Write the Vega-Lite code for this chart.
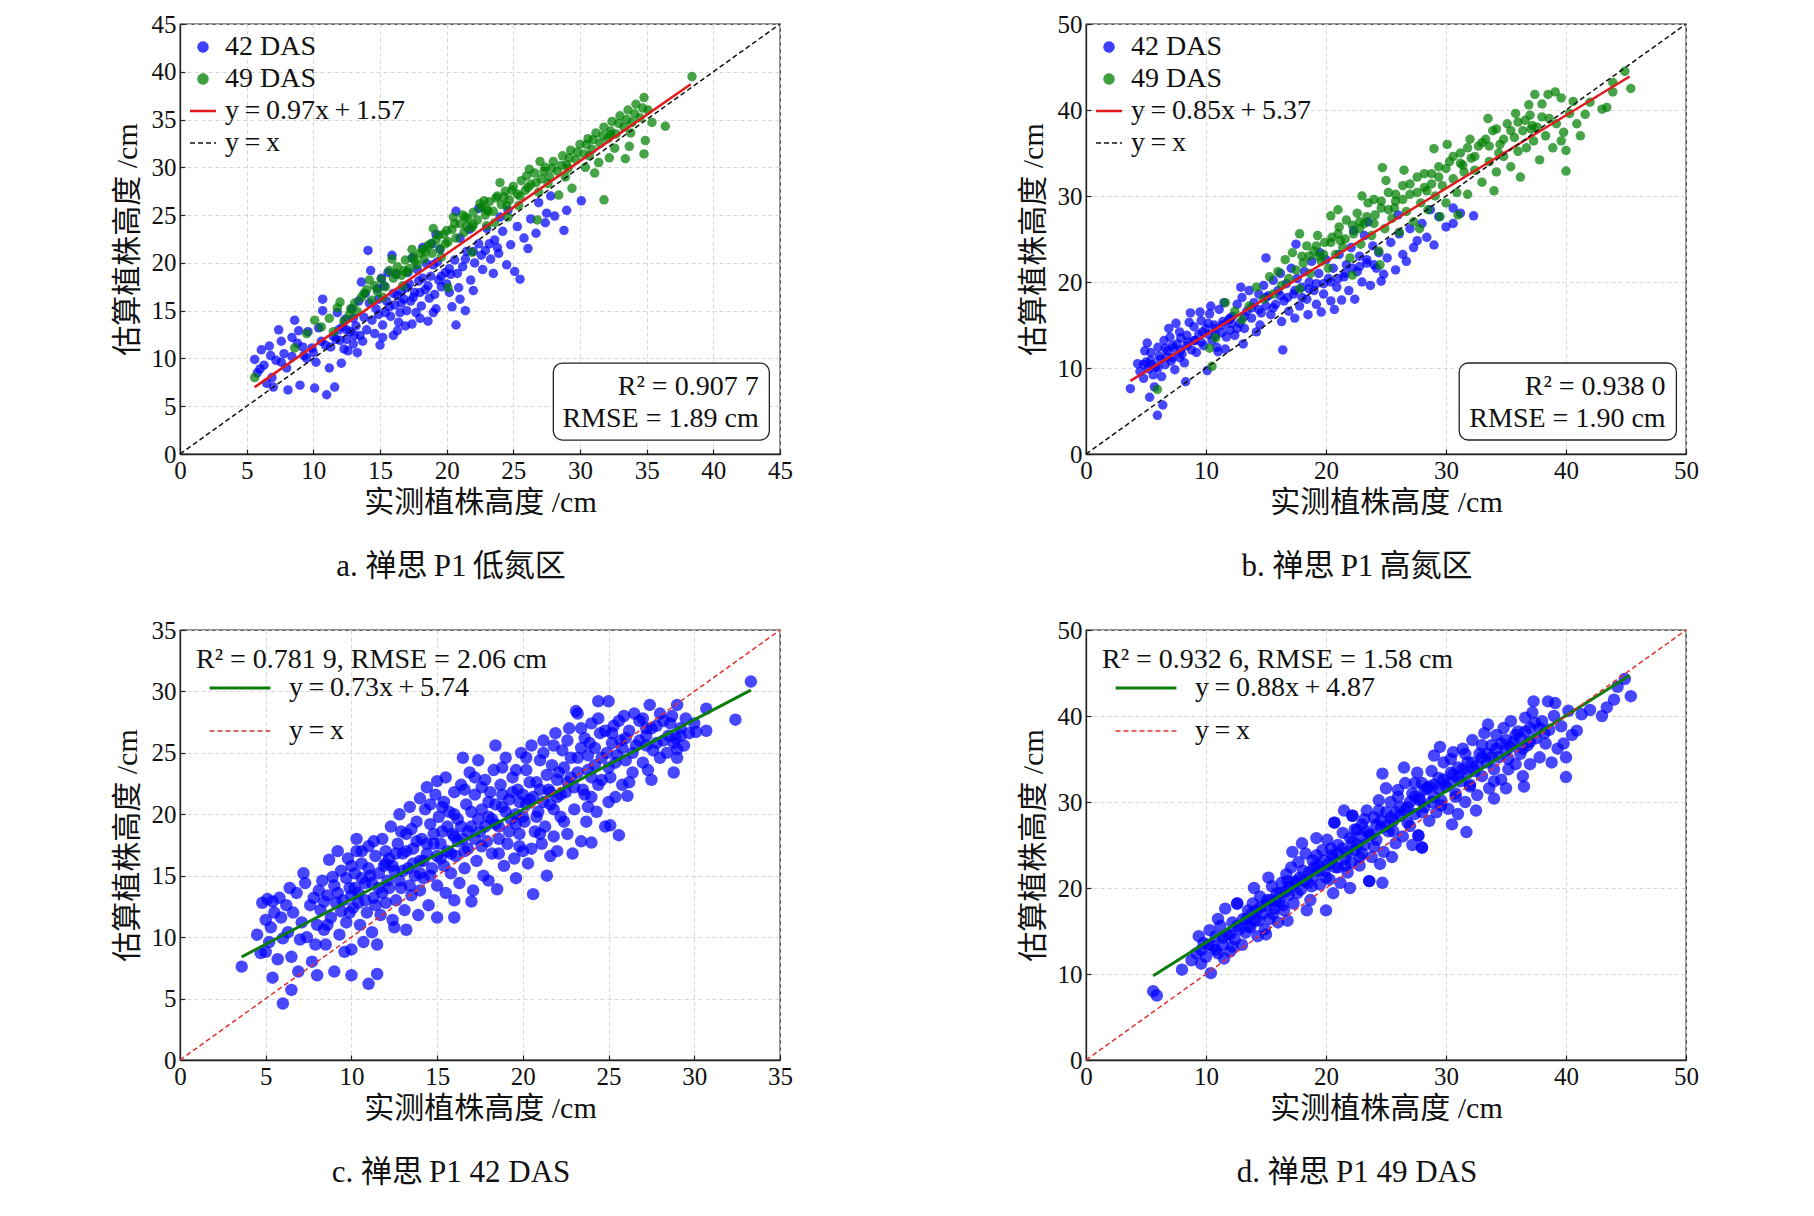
{
  "$schema": "https://vega.github.io/schema/vega-lite/v6.json",
  "description": "禅思P1 plant height: estimated vs measured, four panels",
  "padding": {"left": 111, "top": 11, "right": 5, "bottom": 5},
  "background": "white",
  "config": {
    "font": "Liberation Serif, Noto Sans CJK SC",
    "view": {"stroke": "#222222", "strokeWidth": 1.3},
    "axis": {
      "labelFontSize": 25, "labelColor": "#111111", "labelPadding": 9, "labelFlush": false, "labelOverlap": false,
      "titleFontSize": 30, "titleFontWeight": "normal", "titleColor": "#111111",
      "domainColor": "#222222", "domainWidth": 1.3,
      "tickColor": "#222222", "tickSize": -5, "tickWidth": 1.2,
      "gridColor": "#d2d2d2", "gridDash": [4, 3], "gridWidth": 0.9
    },
    "axisX": {"titlePadding": 4},
    "axisY": {"titlePadding": 9},
    "legend": {
      "labelFontSize": 28, "labelColor": "#111111", "labelLimit": 400,
      "titleFontSize": 28, "titleFontWeight": "normal", "titleColor": "#111111", "titleLimit": 600,
      "padding": 0
    },
    "title": {"fontSize": 31, "fontWeight": "normal", "color": "#111111"}
  },
  "resolve": {"scale": {"color": "independent"}, "legend": {"color": "independent"}},
  "datasets": {
    "a42": [
      {"x":5.6,"y":9.9},{"x":6.1,"y":10.9},{"x":6.7,"y":11.3},{"x":5.8,"y":8.5},{"x":6.3,"y":9.3},{"x":6.9,"y":8.0},{"x":7.4,"y":13.0},{"x":7.2,"y":9.8},{"x":7.8,"y":10.5},{"x":6.5,"y":7.4},{"x":7.0,"y":7.0},{"x":8.1,"y":6.7},{"x":7.6,"y":11.8},{"x":8.0,"y":9.0},{"x":6.0,"y":8.9},{"x":6.8,"y":10.3},
      {"x":8.6,"y":14.0},{"x":8.4,"y":12.2},{"x":9.0,"y":7.2},{"x":9.3,"y":10.3},{"x":8.8,"y":11.6},{"x":9.6,"y":12.8},{"x":10.1,"y":6.9},{"x":10.7,"y":16.2},{"x":10.7,"y":15.0},{"x":10.4,"y":13.2},{"x":9.9,"y":11.1},{"x":10.2,"y":9.6},{"x":9.5,"y":10.0},{"x":8.9,"y":12.9},{"x":10.6,"y":11.8},{"x":11.0,"y":6.2},{"x":11.6,"y":7.0},{"x":11.2,"y":9.0},
      {"x":11.5,"y":12.3},{"x":11.9,"y":13.0},{"x":12.1,"y":9.5},{"x":12.3,"y":11.0},{"x":12.5,"y":12.0},{"x":12.8,"y":12.8},{"x":13.0,"y":11.5},{"x":13.2,"y":13.4},{"x":13.5,"y":12.4},{"x":13.8,"y":14.3},{"x":11.8,"y":14.8},{"x":12.4,"y":14.1},{"x":12.9,"y":15.2},{"x":13.4,"y":16.0},{"x":11.3,"y":11.2},{"x":12.0,"y":11.9},{"x":13.7,"y":11.8},{"x":13.3,"y":10.6},{"x":12.6,"y":10.8},{"x":14.0,"y":13.0},{"x":14.1,"y":21.3},{"x":13.6,"y":18.0},{"x":13.9,"y":16.8},
      {"x":14.4,"y":14.0},{"x":14.7,"y":15.2},{"x":15.0,"y":11.4},{"x":15.2,"y":13.5},{"x":15.5,"y":16.0},{"x":15.9,"y":20.8},{"x":15.3,"y":17.6},{"x":15.8,"y":14.4},{"x":16.1,"y":15.6},{"x":16.4,"y":13.8},{"x":16.6,"y":17.0},{"x":16.9,"y":13.4},{"x":16.2,"y":18.8},{"x":16.8,"y":16.2},{"x":14.8,"y":17.3},{"x":15.6,"y":19.0},{"x":14.6,"y":12.6},{"x":17.0,"y":15.0},{"x":16.0,"y":12.4},{"x":15.1,"y":18.4},{"x":14.3,"y":19.2},
      {"x":17.2,"y":17.8},{"x":17.5,"y":16.4},{"x":17.8,"y":19.3},{"x":18.1,"y":15.5},{"x":18.4,"y":17.2},{"x":18.6,"y":13.9},{"x":18.8,"y":18.6},{"x":19.1,"y":16.7},{"x":19.3,"y":20.1},{"x":19.6,"y":17.5},{"x":19.9,"y":19.0},{"x":17.4,"y":20.5},{"x":18.2,"y":21.6},{"x":17.7,"y":14.8},{"x":19.2,"y":15.2},{"x":18.9,"y":22.0},{"x":19.5,"y":21.4},{"x":17.1,"y":19.0},{"x":18.5,"y":19.9},{"x":20.0,"y":17.8},{"x":19.2,"y":23.0},
      {"x":20.4,"y":15.4},{"x":20.7,"y":13.5},{"x":21.4,"y":15.0},{"x":20.3,"y":18.8},{"x":20.6,"y":20.3},{"x":20.9,"y":17.4},{"x":21.2,"y":19.6},{"x":21.5,"y":21.2},{"x":21.8,"y":18.2},{"x":22.1,"y":20.0},{"x":22.4,"y":22.0},{"x":22.7,"y":19.3},{"x":20.7,"y":25.4},{"x":22.4,"y":25.7},{"x":21.0,"y":22.6},{"x":21.7,"y":23.5},{"x":22.9,"y":21.3},{"x":22.0,"y":17.1},{"x":23.0,"y":23.6},
      {"x":23.3,"y":20.4},{"x":23.6,"y":22.4},{"x":23.9,"y":21.0},{"x":24.2,"y":23.3},{"x":24.5,"y":19.8},{"x":24.8,"y":21.9},{"x":25.1,"y":19.1},{"x":25.5,"y":18.3},{"x":25.3,"y":23.8},{"x":24.0,"y":24.8},{"x":23.5,"y":18.9},{"x":25.8,"y":22.6},{"x":26.1,"y":21.5},{"x":24.6,"y":25.5},
      {"x":26.7,"y":23.1},{"x":27.4,"y":24.2},{"x":27.5,"y":25.2},{"x":28.1,"y":24.9},{"x":28.8,"y":23.4},{"x":29.0,"y":25.5},{"x":27.8,"y":27.0},{"x":30.1,"y":26.5},{"x":26.3,"y":24.6},{"x":26.9,"y":26.3},
      {"x":14.9,"y":14.6},{"x":15.7,"y":15.4},{"x":16.5,"y":14.8},{"x":17.3,"y":16.0},{"x":18.0,"y":16.9},{"x":18.7,"y":16.3},{"x":19.4,"y":18.2},{"x":20.2,"y":16.9},{"x":13.1,"y":12.4},{"x":12.2,"y":13.3},{"x":16.3,"y":16.6},{"x":17.9,"y":18.1},
      {"x":14.2,"y":15.8},{"x":14.9,"y":16.2},{"x":15.4,"y":14.8},{"x":16.0,"y":16.8},{"x":16.6,"y":15.8},{"x":17.0,"y":17.4},{"x":17.6,"y":16.9},{"x":18.2,"y":18.4},{"x":18.6,"y":17.6},{"x":19.0,"y":19.8},{"x":19.6,"y":18.6},{"x":20.2,"y":19.4},{"x":20.8,"y":18.9},{"x":21.4,"y":20.4},{"x":22.0,"y":21.2},{"x":22.6,"y":20.8},{"x":23.2,"y":22.0},{"x":23.8,"y":21.6},{"x":13.0,"y":14.2},{"x":12.5,"y":13.0},{"x":11.7,"y":12.0},{"x":10.9,"y":11.4},{"x":10.0,"y":10.6},{"x":9.2,"y":11.2},{"x":8.4,"y":10.2},{"x":7.6,"y":9.6},{"x":18.0,"y":14.2},{"x":19.0,"y":14.8},{"x":16.3,"y":12.9},{"x":17.4,"y":13.6},{"x":21.0,"y":16.2},{"x":15.2,"y":12.2}
    ],
    "a49": [
      {"x":5.6,"y":8.0},{"x":8.6,"y":11.1},{"x":10.1,"y":14.0},{"x":9.5,"y":12.6},{"x":10.6,"y":13.3},{"x":11.2,"y":14.2},{"x":11.8,"y":15.3},{"x":12.3,"y":13.9},{"x":12.0,"y":15.9},{"x":11.5,"y":12.8},{"x":12.7,"y":14.6},{"x":13.1,"y":15.8},{"x":13.6,"y":16.4},{"x":13.3,"y":14.9},{"x":14.0,"y":17.2},{"x":14.4,"y":16.1},{"x":14.2,"y":18.2},
      {"x":14.8,"y":17.0},{"x":15.1,"y":18.3},{"x":15.4,"y":17.5},{"x":15.7,"y":19.2},{"x":16.0,"y":18.4},{"x":16.3,"y":19.6},{"x":16.6,"y":18.7},{"x":16.9,"y":20.3},{"x":17.2,"y":19.4},{"x":17.5,"y":20.6},{"x":17.8,"y":19.8},{"x":15.9,"y":20.4},{"x":16.7,"y":17.6},{"x":17.4,"y":21.4},{"x":15.2,"y":16.4},{"x":18.0,"y":21.0},
      {"x":18.3,"y":20.4},{"x":18.6,"y":21.8},{"x":18.9,"y":21.0},{"x":19.2,"y":22.4},{"x":19.5,"y":21.5},{"x":19.8,"y":23.0},{"x":20.1,"y":22.2},{"x":20.4,"y":23.5},{"x":20.7,"y":22.6},{"x":21.0,"y":24.1},{"x":21.3,"y":23.2},{"x":21.6,"y":24.6},{"x":21.9,"y":23.7},{"x":20.1,"y":17.4},{"x":21.9,"y":21.1},{"x":19.0,"y":23.6},{"x":20.5,"y":24.8},{"x":22.0,"y":25.3},
      {"x":22.3,"y":24.5},{"x":22.6,"y":25.8},{"x":22.9,"y":25.0},{"x":23.2,"y":26.4},{"x":23.5,"y":25.4},{"x":23.8,"y":27.0},{"x":24.1,"y":26.1},{"x":24.4,"y":27.5},{"x":24.7,"y":26.6},{"x":25.0,"y":28.0},{"x":25.3,"y":27.2},{"x":25.6,"y":28.6},{"x":25.9,"y":27.6},{"x":23.0,"y":23.9},{"x":24.6,"y":24.8},{"x":26.0,"y":29.1},
      {"x":26.3,"y":28.2},{"x":26.6,"y":29.4},{"x":26.8,"y":24.5},{"x":27.1,"y":28.8},{"x":27.4,"y":30.0},{"x":27.7,"y":29.0},{"x":28.0,"y":30.6},{"x":28.4,"y":27.1},{"x":28.3,"y":29.6},{"x":28.7,"y":31.2},{"x":29.0,"y":30.3},{"x":29.4,"y":27.8},{"x":29.3,"y":31.8},{"x":29.7,"y":30.8},{"x":30.0,"y":32.4},{"x":27.0,"y":30.6},
      {"x":30.3,"y":31.4},{"x":30.6,"y":33.0},{"x":31.1,"y":29.4},{"x":30.9,"y":31.9},{"x":31.2,"y":33.6},{"x":31.5,"y":32.5},{"x":31.8,"y":26.6},{"x":31.8,"y":34.2},{"x":32.1,"y":33.0},{"x":32.4,"y":34.8},{"x":32.7,"y":33.5},{"x":33.0,"y":35.4},{"x":33.4,"y":30.9},{"x":33.3,"y":34.2},{"x":33.6,"y":36.0},{"x":33.9,"y":34.7},{"x":34.2,"y":36.6},{"x":34.5,"y":35.2},{"x":34.8,"y":37.3},{"x":34.8,"y":31.4},{"x":35.4,"y":34.7},{"x":36.4,"y":34.3},{"x":34.9,"y":32.8},{"x":33.7,"y":32.2},{"x":35.1,"y":36.0},{"x":32.2,"y":31.0},{"x":31.4,"y":30.5},{"x":38.4,"y":39.5},
      {"x":21.2,"y":25.0},{"x":22.8,"y":26.5},{"x":24.0,"y":28.4},{"x":19.6,"y":20.6},{"x":23.6,"y":24.2},{"x":25.4,"y":26.0},{"x":26.9,"y":27.4},{"x":28.9,"y":29.0},{"x":30.4,"y":30.0},{"x":32.6,"y":32.0},
      {"x":17.0,"y":19.0},{"x":18.4,"y":21.2},{"x":19.9,"y":22.0},{"x":21.5,"y":23.8},{"x":23.0,"y":25.6},{"x":24.5,"y":26.0},{"x":26.1,"y":27.9},{"x":27.6,"y":28.3},{"x":29.1,"y":29.9},{"x":30.7,"y":31.2},{"x":32.3,"y":33.8},{"x":33.8,"y":33.6},
      {"x":16.2,"y":18.9},{"x":16.8,"y":19.2},{"x":17.6,"y":20.2},{"x":18.2,"y":21.4},{"x":18.8,"y":22.0},{"x":19.4,"y":22.9},{"x":20.0,"y":23.4},{"x":20.6,"y":24.1},{"x":21.4,"y":24.8},{"x":22.0,"y":24.0},{"x":22.5,"y":26.2},{"x":23.1,"y":25.4},{"x":23.7,"y":26.8},{"x":24.3,"y":26.9},{"x":24.9,"y":27.6},{"x":25.5,"y":27.0},{"x":26.2,"y":29.8},{"x":26.7,"y":28.4},{"x":27.3,"y":29.6},{"x":27.9,"y":29.9},{"x":28.6,"y":30.2},{"x":29.2,"y":31.0},{"x":29.8,"y":31.6},{"x":30.5,"y":32.4},{"x":31.0,"y":32.9},{"x":31.7,"y":33.3},{"x":32.3,"y":33.4},{"x":32.9,"y":34.6},{"x":33.5,"y":35.0},{"x":34.1,"y":35.6},{"x":34.7,"y":36.2},{"x":13.8,"y":16.8},{"x":14.6,"y":17.6},{"x":12.8,"y":15.2}
    ],
    "b42": [
      {"x":3.7,"y":7.6},{"x":4.8,"y":8.8},{"x":5.0,"y":10.7},{"x":5.1,"y":12.9},{"x":5.3,"y":6.6},{"x":5.7,"y":7.8},{"x":5.95,"y":4.5},{"x":6.4,"y":5.7},{"x":4.5,"y":9.6},{"x":5.4,"y":11.8},{"x":5.8,"y":10.1},{"x":6.0,"y":12.4},{"x":4.9,"y":12.0},{"x":5.6,"y":9.2},{"x":6.2,"y":11.0},{"x":6.5,"y":13.2},{"x":4.3,"y":10.5},{"x":5.2,"y":9.9},
      {"x":6.6,"y":10.4},{"x":6.8,"y":12.0},{"x":7.0,"y":13.6},{"x":7.2,"y":11.2},{"x":7.4,"y":9.8},{"x":7.6,"y":12.8},{"x":7.8,"y":14.2},{"x":8.0,"y":11.6},{"x":8.3,"y":8.4},{"x":8.5,"y":13.0},{"x":8.7,"y":16.4},{"x":8.8,"y":12.1},{"x":9.0,"y":14.8},{"x":6.9,"y":14.6},{"x":7.5,"y":15.2},{"x":8.2,"y":10.6},{"x":6.3,"y":9.0},{"x":7.9,"y":13.5},{"x":8.6,"y":15.3},{"x":7.1,"y":10.8},
      {"x":9.2,"y":11.8},{"x":9.4,"y":13.9},{"x":9.6,"y":15.5},{"x":9.8,"y":12.6},{"x":10.1,"y":9.7},{"x":10.0,"y":14.6},{"x":10.3,"y":16.3},{"x":10.5,"y":13.2},{"x":10.7,"y":15.0},{"x":10.9,"y":12.4},{"x":11.1,"y":16.8},{"x":11.3,"y":14.1},{"x":11.5,"y":17.6},{"x":11.7,"y":13.6},{"x":11.9,"y":15.6},{"x":10.4,"y":17.2},{"x":9.5,"y":16.5},{"x":11.0,"y":11.9},{"x":12.0,"y":14.4},{"x":11.6,"y":12.2},
      {"x":12.2,"y":16.0},{"x":12.4,"y":13.8},{"x":12.6,"y":17.4},{"x":12.8,"y":15.2},{"x":13.0,"y":18.2},{"x":13.2,"y":14.6},{"x":13.4,"y":16.6},{"x":13.6,"y":19.0},{"x":13.8,"y":15.8},{"x":14.0,"y":17.6},{"x":14.2,"y":14.2},{"x":14.4,"y":18.6},{"x":14.6,"y":16.4},{"x":14.8,"y":19.6},{"x":15.0,"y":22.8},{"x":13.1,"y":12.8},{"x":14.5,"y":15.0},{"x":12.9,"y":19.4},{"x":15.0,"y":17.2},
      {"x":15.2,"y":18.4},{"x":15.4,"y":16.2},{"x":15.6,"y":20.2},{"x":15.8,"y":17.4},{"x":16.0,"y":19.0},{"x":16.2,"y":21.0},{"x":16.4,"y":12.1},{"x":16.5,"y":17.8},{"x":16.7,"y":19.8},{"x":16.9,"y":16.6},{"x":17.1,"y":21.6},{"x":17.3,"y":18.6},{"x":17.5,"y":24.4},{"x":17.6,"y":20.4},{"x":17.8,"y":17.2},{"x":18.0,"y":19.4},{"x":16.3,"y":15.4},{"x":17.4,"y":15.8},
      {"x":18.2,"y":21.2},{"x":18.4,"y":18.0},{"x":18.6,"y":20.0},{"x":18.8,"y":22.4},{"x":19.0,"y":19.0},{"x":19.2,"y":17.4},{"x":19.4,"y":21.0},{"x":19.6,"y":16.5},{"x":19.8,"y":19.8},{"x":20.0,"y":22.6},{"x":20.2,"y":20.4},{"x":20.4,"y":17.8},{"x":20.6,"y":21.6},{"x":20.7,"y":16.8},{"x":20.9,"y":19.4},{"x":21.1,"y":23.2},{"x":21.3,"y":17.9},{"x":19.5,"y":23.4},{"x":18.5,"y":16.2},
      {"x":21.5,"y":20.6},{"x":21.7,"y":22.0},{"x":21.9,"y":19.0},{"x":22.1,"y":24.0},{"x":22.4,"y":18.0},{"x":22.6,"y":21.2},{"x":22.8,"y":23.0},{"x":23.0,"y":20.0},{"x":23.2,"y":25.4},{"x":23.4,"y":22.2},{"x":23.7,"y":19.6},{"x":23.9,"y":24.2},{"x":24.2,"y":21.6},{"x":24.4,"y":23.4},{"x":24.6,"y":20.1},{"x":24.8,"y":20.9},{"x":22.3,"y":26.0},{"x":23.5,"y":27.0},
      {"x":25.1,"y":22.8},{"x":25.4,"y":24.6},{"x":25.8,"y":21.4},{"x":26.1,"y":25.6},{"x":26.4,"y":23.2},{"x":26.7,"y":22.4},{"x":27.0,"y":26.2},{"x":27.3,"y":24.0},{"x":27.6,"y":24.8},{"x":28.0,"y":26.8},{"x":28.4,"y":25.2},{"x":29.0,"y":24.3},{"x":29.4,"y":27.6},{"x":30.0,"y":26.4},{"x":30.6,"y":28.6},{"x":30.6,"y":26.8},{"x":31.2,"y":28.0},{"x":32.3,"y":27.7},{"x":28.7,"y":28.4},{"x":26.0,"y":27.8},
      {"x":5.5,"y":10.4},{"x":6.1,"y":11.4},{"x":6.7,"y":11.3},{"x":7.3,"y":12.3},{"x":7.9,"y":12.1},{"x":8.4,"y":13.8},{"x":9.1,"y":13.2},{"x":9.7,"y":14.2},{"x":10.2,"y":13.9},{"x":10.8,"y":14.6},{"x":11.4,"y":15.4},{"x":12.1,"y":15.2},
      {"x":4.8,"y":10.4},{"x":5.4,"y":10.9},{"x":6.0,"y":10.0},{"x":6.6,"y":12.3},{"x":7.2,"y":12.6},{"x":7.8,"y":11.2},{"x":8.4,"y":12.6},{"x":9.0,"y":13.2},{"x":9.6,"y":13.0},{"x":10.2,"y":15.2},{"x":10.8,"y":13.8},{"x":11.4,"y":15.0},{"x":12.0,"y":15.8},{"x":12.6,"y":14.6},{"x":13.2,"y":16.0},{"x":13.8,"y":17.0},{"x":14.4,"y":16.8},{"x":15.0,"y":18.2},{"x":15.6,"y":17.0},{"x":16.2,"y":18.4},{"x":16.8,"y":18.2},{"x":17.4,"y":19.0},{"x":18.0,"y":18.2},{"x":18.6,"y":19.2},{"x":19.2,"y":19.8},{"x":19.8,"y":18.6},{"x":20.4,"y":20.0},{"x":21.0,"y":20.4},{"x":21.6,"y":21.0},{"x":22.2,"y":21.6},{"x":22.8,"y":21.8},{"x":23.4,"y":22.6},{"x":24.0,"y":22.0}
    ],
    "b49": [
      {"x":5.95,"y":7.5},{"x":10.5,"y":10.2},{"x":10.3,"y":12.3},{"x":10.8,"y":13.5},{"x":11.6,"y":17.6},{"x":12.4,"y":16.6},{"x":13.0,"y":15.6},{"x":13.6,"y":17.2},{"x":14.2,"y":19.4},{"x":14.8,"y":18.0},{"x":15.3,"y":20.6},{"x":15.6,"y":18.6},
      {"x":16.0,"y":21.2},{"x":16.3,"y":19.6},{"x":16.6,"y":22.6},{"x":16.9,"y":20.4},{"x":17.2,"y":23.4},{"x":17.5,"y":21.4},{"x":17.8,"y":25.6},{"x":17.8,"y":19.2},{"x":18.1,"y":22.2},{"x":18.4,"y":24.2},{"x":18.7,"y":21.0},{"x":19.0,"y":23.6},{"x":19.3,"y":25.4},{"x":19.6,"y":22.4},{"x":19.9,"y":24.6},{"x":20.2,"y":21.6},{"x":20.4,"y":27.7},{"x":18.0,"y":23.0},
      {"x":20.5,"y":25.2},{"x":20.8,"y":23.2},{"x":21.1,"y":26.4},{"x":21.4,"y":24.0},{"x":21.7,"y":27.2},{"x":22.0,"y":22.8},{"x":22.3,"y":25.6},{"x":22.6,"y":28.0},{"x":22.9,"y":24.4},{"x":23.2,"y":26.8},{"x":23.5,"y":29.2},{"x":23.8,"y":25.4},{"x":24.1,"y":27.8},{"x":24.4,"y":23.6},{"x":24.7,"y":33.3},{"x":21.0,"y":28.4},{"x":22.2,"y":20.8},{"x":23.0,"y":30.0},{"x":24.0,"y":29.6},
      {"x":24.6,"y":28.6},{"x":24.9,"y":26.2},{"x":25.2,"y":30.4},{"x":25.5,"y":27.4},{"x":25.8,"y":29.4},{"x":26.1,"y":25.8},{"x":26.4,"y":31.2},{"x":26.7,"y":28.2},{"x":27.0,"y":30.2},{"x":27.3,"y":27.0},{"x":27.6,"y":32.2},{"x":27.9,"y":29.2},{"x":28.2,"y":31.0},{"x":25.0,"y":31.8},{"x":26.5,"y":33.0},{"x":27.8,"y":26.2},{"x":24.5,"y":22.0},
      {"x":28.5,"y":28.4},{"x":28.8,"y":32.6},{"x":29.0,"y":35.5},{"x":29.1,"y":30.0},{"x":29.4,"y":33.4},{"x":29.7,"y":31.2},{"x":30.0,"y":29.2},{"x":30.3,"y":34.0},{"x":30.6,"y":32.0},{"x":30.9,"y":30.4},{"x":31.2,"y":35.0},{"x":31.5,"y":32.8},{"x":31.8,"y":30.2},{"x":32.1,"y":34.4},{"x":29.5,"y":27.6},{"x":31.0,"y":27.8},{"x":32.0,"y":36.6},{"x":30.1,"y":36.0},
      {"x":32.4,"y":33.0},{"x":32.7,"y":35.8},{"x":33.0,"y":31.6},{"x":33.3,"y":36.6},{"x":33.6,"y":34.0},{"x":33.9,"y":37.6},{"x":34.2,"y":32.8},{"x":34.5,"y":36.0},{"x":34.8,"y":34.6},{"x":35.1,"y":38.4},{"x":35.4,"y":33.4},{"x":35.7,"y":36.8},{"x":36.0,"y":35.2},{"x":33.5,"y":39.0},{"x":34.0,"y":30.6},{"x":35.8,"y":39.6},{"x":36.2,"y":32.2},
      {"x":36.4,"y":37.6},{"x":36.7,"y":35.6},{"x":37.0,"y":39.4},{"x":37.3,"y":36.4},{"x":37.4,"y":41.8},{"x":37.6,"y":38.0},{"x":38.0,"y":40.7},{"x":38.3,"y":37.0},{"x":38.5,"y":41.8},{"x":38.6,"y":39.0},{"x":38.9,"y":35.6},{"x":39.1,"y":42.1},{"x":39.2,"y":38.4},{"x":39.6,"y":41.4},{"x":39.6,"y":36.4},{"x":40.0,"y":32.9},{"x":40.0,"y":35.3},{"x":40.3,"y":39.6},{"x":40.9,"y":38.4},{"x":41.6,"y":39.5},{"x":42.0,"y":40.9},{"x":43.0,"y":40.1},{"x":43.4,"y":40.3},{"x":43.9,"y":42.1},{"x":43.9,"y":43.2},{"x":44.9,"y":44.5},{"x":45.4,"y":42.5},{"x":39.8,"y":37.4},{"x":37.8,"y":34.2},{"x":40.6,"y":41.0},{"x":41.2,"y":37.0},{"x":36.9,"y":40.6},
      {"x":19.4,"y":23.0},{"x":21.2,"y":24.8},{"x":22.8,"y":26.2},{"x":25.7,"y":28.6},{"x":28.4,"y":30.6},{"x":31.4,"y":33.6},{"x":34.4,"y":35.0},{"x":37.1,"y":37.8},
      {"x":18.6,"y":23.0},{"x":19.2,"y":24.2},{"x":19.8,"y":23.2},{"x":20.4,"y":24.6},{"x":21.0,"y":25.6},{"x":21.6,"y":25.0},{"x":22.2,"y":26.6},{"x":22.8,"y":27.0},{"x":23.4,"y":27.6},{"x":24.0,"y":26.8},{"x":24.6,"y":29.4},{"x":25.2,"y":28.4},{"x":25.8,"y":30.2},{"x":26.4,"y":29.6},{"x":27.0,"y":31.4},{"x":27.6,"y":30.4},{"x":28.2,"y":32.6},{"x":28.8,"y":31.4},{"x":29.4,"y":32.2},{"x":30.0,"y":33.2},{"x":30.6,"y":34.6},{"x":31.2,"y":33.8},{"x":31.8,"y":35.6},{"x":32.4,"y":34.6},{"x":33.0,"y":36.2},{"x":33.6,"y":35.8},{"x":34.2,"y":37.8},{"x":34.8,"y":36.6},{"x":35.4,"y":37.6},{"x":36.0,"y":38.6},{"x":36.6,"y":38.8},{"x":37.2,"y":38.2},{"x":38.0,"y":39.2}
    ],
    "c": [
      {"x":3.6,"y":7.6},{"x":4.7,"y":8.7},{"x":5.0,"y":8.8},{"x":4.8,"y":12.8},{"x":5.4,"y":12.9},{"x":4.5,"y":10.2},{"x":5.0,"y":11.4},{"x":5.2,"y":9.6},{"x":5.4,"y":6.7},{"x":5.5,"y":12.0},{"x":5.3,"y":10.8},{"x":5.7,"y":8.2},{"x":5.9,"y":11.6},{"x":6.0,"y":4.6},{"x":6.0,"y":9.9},{"x":5.8,"y":13.2},{"x":6.2,"y":12.6},{"x":5.1,"y":13.1},
      {"x":6.3,"y":10.4},{"x":6.5,"y":5.7},{"x":6.5,"y":8.4},{"x":6.6,"y":12.0},{"x":6.8,"y":13.6},{"x":7.0,"y":9.8},{"x":7.1,"y":11.2},{"x":7.3,"y":14.4},{"x":7.4,"y":10.0},{"x":7.6,"y":12.6},{"x":7.7,"y":8.0},{"x":7.8,"y":13.2},{"x":8.0,"y":6.9},{"x":8.0,"y":11.0},{"x":6.9,"y":7.2},{"x":7.2,"y":15.2},{"x":7.9,"y":9.4},{"x":6.4,"y":14.0},
      {"x":8.2,"y":12.2},{"x":8.3,"y":14.6},{"x":8.4,"y":10.6},{"x":8.6,"y":13.4},{"x":8.7,"y":16.3},{"x":8.8,"y":11.6},{"x":9.0,"y":7.2},{"x":9.0,"y":14.2},{"x":9.1,"y":12.8},{"x":9.3,"y":10.2},{"x":9.4,"y":15.4},{"x":9.5,"y":13.0},{"x":9.7,"y":11.2},{"x":9.8,"y":16.4},{"x":9.9,"y":14.0},{"x":10.0,"y":6.9},{"x":10.0,"y":9.0},{"x":8.5,"y":9.4},{"x":9.6,"y":8.8},{"x":9.2,"y":17.0},
      {"x":10.1,"y":12.4},{"x":10.2,"y":15.2},{"x":10.3,"y":17.0},{"x":10.4,"y":13.6},{"x":10.5,"y":11.0},{"x":10.6,"y":16.0},{"x":10.8,"y":14.4},{"x":10.9,"y":12.0},{"x":11.0,"y":6.2},{"x":11.0,"y":17.4},{"x":11.1,"y":15.0},{"x":11.2,"y":10.4},{"x":11.3,"y":13.2},{"x":11.4,"y":16.6},{"x":11.5,"y":7.0},{"x":11.6,"y":14.0},{"x":11.7,"y":11.8},{"x":11.8,"y":18.0},{"x":11.9,"y":15.8},{"x":12.0,"y":12.8},{"x":10.7,"y":9.6},{"x":11.5,"y":9.4},{"x":12.0,"y":17.0},{"x":10.3,"y":18.0},
      {"x":12.1,"y":14.6},{"x":12.2,"y":16.4},{"x":12.3,"y":19.0},{"x":12.4,"y":11.4},{"x":12.5,"y":15.4},{"x":12.6,"y":13.0},{"x":12.7,"y":17.6},{"x":12.8,"y":20.0},{"x":12.9,"y":14.0},{"x":13.0,"y":16.8},{"x":13.1,"y":12.2},{"x":13.2,"y":18.4},{"x":13.3,"y":15.6},{"x":13.4,"y":20.6},{"x":13.5,"y":13.4},{"x":13.6,"y":17.2},{"x":13.7,"y":15.0},{"x":13.8,"y":19.4},{"x":13.9,"y":11.8},{"x":14.0,"y":21.3},{"x":14.0,"y":16.2},{"x":12.5,"y":10.8},{"x":13.2,"y":10.6},{"x":14.0,"y":13.8},
      {"x":14.1,"y":18.0},{"x":14.2,"y":14.8},{"x":14.3,"y":20.4},{"x":14.4,"y":16.8},{"x":14.5,"y":12.6},{"x":14.6,"y":19.2},{"x":14.7,"y":15.6},{"x":14.8,"y":17.6},{"x":14.9,"y":21.6},{"x":15.0,"y":22.7},{"x":15.0,"y":11.6},{"x":15.0,"y":14.2},{"x":15.1,"y":19.8},{"x":15.2,"y":16.4},{"x":15.3,"y":18.6},{"x":15.4,"y":21.0},{"x":15.5,"y":13.6},{"x":15.6,"y":17.0},{"x":15.7,"y":20.2},{"x":15.8,"y":15.2},{"x":15.9,"y":18.4},{"x":16.0,"y":11.6},{"x":16.0,"y":21.8},{"x":14.4,"y":22.2},{"x":15.5,"y":23.0},{"x":16.0,"y":13.0},
      {"x":16.1,"y":16.6},{"x":16.2,"y":19.6},{"x":16.3,"y":14.4},{"x":16.4,"y":22.4},{"x":16.5,"y":18.0},{"x":16.6,"y":15.6},{"x":16.7,"y":20.8},{"x":16.8,"y":17.2},{"x":16.9,"y":23.4},{"x":17.0,"y":19.0},{"x":17.1,"y":13.8},{"x":17.2,"y":21.6},{"x":17.3,"y":16.2},{"x":17.4,"y":24.4},{"x":17.5,"y":18.6},{"x":17.6,"y":20.4},{"x":17.7,"y":15.0},{"x":17.8,"y":22.8},{"x":17.9,"y":17.8},{"x":18.0,"y":19.8},{"x":16.5,"y":24.6},{"x":17.0,"y":12.9},{"x":18.0,"y":14.6},
      {"x":18.1,"y":21.8},{"x":18.2,"y":16.8},{"x":18.3,"y":23.6},{"x":18.4,"y":19.2},{"x":18.5,"y":13.9},{"x":18.6,"y":18.0},{"x":18.7,"y":22.4},{"x":18.8,"y":20.6},{"x":18.9,"y":15.8},{"x":19.0,"y":24.6},{"x":19.1,"y":17.6},{"x":19.2,"y":21.2},{"x":19.3,"y":19.6},{"x":19.4,"y":23.0},{"x":19.5,"y":16.4},{"x":19.6,"y":20.0},{"x":19.7,"y":22.0},{"x":19.8,"y":18.4},{"x":19.9,"y":25.0},{"x":20.0,"y":17.0},{"x":18.4,"y":25.6},{"x":19.6,"y":14.8},{"x":20.0,"y":21.6},
      {"x":20.1,"y":19.4},{"x":20.2,"y":23.6},{"x":20.3,"y":16.0},{"x":20.4,"y":21.2},{"x":20.5,"y":25.6},{"x":20.6,"y":13.5},{"x":20.7,"y":18.6},{"x":20.8,"y":22.6},{"x":20.9,"y":20.2},{"x":21.0,"y":24.4},{"x":21.1,"y":17.6},{"x":21.2,"y":26.0},{"x":21.3,"y":19.0},{"x":21.4,"y":15.0},{"x":21.5,"y":22.0},{"x":21.6,"y":20.8},{"x":21.7,"y":24.0},{"x":21.8,"y":18.2},{"x":21.9,"y":26.6},{"x":22.0,"y":17.0},{"x":22.0,"y":21.4},{"x":20.5,"y":17.2},{"x":21.6,"y":16.6},
      {"x":22.1,"y":23.4},{"x":22.2,"y":19.8},{"x":22.3,"y":25.2},{"x":22.5,"y":21.8},{"x":22.6,"y":18.4},{"x":22.7,"y":27.0},{"x":22.8,"y":23.0},{"x":23.0,"y":20.4},{"x":23.1,"y":28.4},{"x":23.2,"y":28.2},{"x":23.2,"y":24.6},{"x":23.4,"y":17.8},{"x":23.5,"y":22.0},{"x":23.6,"y":26.2},{"x":23.7,"y":19.4},{"x":23.8,"y":23.6},{"x":23.9,"y":25.8},{"x":24.0,"y":17.7},{"x":24.0,"y":21.4},{"x":22.9,"y":16.8},{"x":24.0,"y":27.4},
      {"x":24.2,"y":24.0},{"x":24.4,"y":29.2},{"x":24.3,"y":20.2},{"x":24.5,"y":26.6},{"x":24.6,"y":22.8},{"x":24.8,"y":19.0},{"x":24.9,"y":25.0},{"x":25.0,"y":29.2},{"x":25.1,"y":19.1},{"x":25.1,"y":23.0},{"x":25.3,"y":27.2},{"x":25.4,"y":21.4},{"x":25.5,"y":24.8},{"x":25.6,"y":18.3},{"x":25.7,"y":26.0},{"x":25.8,"y":22.4},{"x":25.9,"y":28.0},{"x":26.1,"y":21.5},{"x":26.0,"y":24.4},{"x":25.2,"y":25.8},
      {"x":26.2,"y":26.8},{"x":26.4,"y":23.4},{"x":26.6,"y":25.6},{"x":26.8,"y":27.6},{"x":27.0,"y":24.2},{"x":27.2,"y":26.4},{"x":27.4,"y":28.9},{"x":27.5,"y":22.8},{"x":27.6,"y":25.2},{"x":27.8,"y":27.2},{"x":28.0,"y":24.6},{"x":28.2,"y":26.0},{"x":26.5,"y":28.2},{"x":27.3,"y":23.6},{"x":28.0,"y":28.2},
      {"x":28.4,"y":25.0},{"x":28.6,"y":27.4},{"x":28.8,"y":23.4},{"x":28.9,"y":26.2},{"x":29.0,"y":28.9},{"x":29.0,"y":24.6},{"x":29.2,"y":27.0},{"x":29.4,"y":25.6},{"x":29.7,"y":26.6},{"x":30.1,"y":26.7},{"x":30.7,"y":26.8},{"x":30.7,"y":28.6},{"x":32.4,"y":27.7},{"x":33.3,"y":30.8},{"x":29.0,"y":25.3},{"x":28.7,"y":28.0},
      {"x":8.1,"y":13.8},{"x":8.4,"y":12.9},{"x":8.9,"y":14.9},{"x":9.2,"y":13.6},{"x":9.4,"y":12.1},{"x":9.7,"y":14.8},{"x":10.0,"y":13.4},{"x":10.0,"y":15.8},{"x":8.6,"y":11.0},{"x":9.9,"y":12.0},
      {"x":10.2,"y":14.0},{"x":10.4,"y":12.8},{"x":10.6,"y":14.8},{"x":10.8,"y":13.0},{"x":11.0,"y":15.6},{"x":11.2,"y":14.4},{"x":11.4,"y":12.6},{"x":11.6,"y":15.2},{"x":11.8,"y":13.6},{"x":12.0,"y":16.0},{"x":10.6,"y":17.0},{"x":11.3,"y":17.8},
      {"x":12.2,"y":14.0},{"x":12.4,"y":15.8},{"x":12.6,"y":16.8},{"x":12.8,"y":14.6},{"x":13.0,"y":15.4},{"x":13.2,"y":17.0},{"x":13.4,"y":14.2},{"x":13.6,"y":16.0},{"x":13.8,"y":17.8},{"x":14.0,"y":15.2},{"x":12.9,"y":18.6},{"x":13.5,"y":18.8},
      {"x":14.2,"y":16.2},{"x":14.4,"y":17.6},{"x":14.6,"y":15.0},{"x":14.8,"y":18.4},{"x":15.0,"y":16.6},{"x":15.2,"y":17.6},{"x":15.4,"y":15.8},{"x":15.6,"y":19.0},{"x":15.8,"y":16.8},{"x":16.0,"y":18.2},{"x":14.6,"y":20.8},{"x":15.3,"y":20.6},{"x":16.0,"y":20.0},
      {"x":16.2,"y":17.8},{"x":16.4,"y":19.0},{"x":16.6,"y":17.0},{"x":16.8,"y":18.6},{"x":17.0,"y":20.2},{"x":17.2,"y":18.0},{"x":17.4,"y":19.6},{"x":17.6,"y":17.4},{"x":17.8,"y":19.0},{"x":18.0,"y":21.0},{"x":16.6,"y":22.0},{"x":17.6,"y":22.2},{"x":17.2,"y":23.0},
      {"x":18.2,"y":19.6},{"x":18.4,"y":20.8},{"x":18.6,"y":19.0},{"x":18.8,"y":21.6},{"x":19.0,"y":20.2},{"x":19.2,"y":18.6},{"x":19.4,"y":21.8},{"x":19.6,"y":19.2},{"x":19.8,"y":21.0},{"x":20.0,"y":19.8},{"x":18.8,"y":23.8},{"x":19.6,"y":23.6},{"x":18.6,"y":16.8},{"x":19.8,"y":17.4},
      {"x":20.2,"y":20.8},{"x":20.4,"y":22.6},{"x":20.6,"y":21.4},{"x":20.8,"y":19.8},{"x":21.0,"y":22.0},{"x":21.2,"y":21.0},{"x":21.4,"y":23.2},{"x":21.6,"y":21.8},{"x":21.8,"y":20.4},{"x":22.0,"y":22.8},{"x":20.2,"y":24.6},{"x":21.2,"y":25.0},{"x":21.0,"y":18.4},{"x":21.8,"y":25.6},
      {"x":22.2,"y":21.6},{"x":22.4,"y":23.8},{"x":22.6,"y":22.6},{"x":22.8,"y":24.6},{"x":23.0,"y":22.2},{"x":23.2,"y":23.4},{"x":23.4,"y":25.4},{"x":23.6,"y":21.6},{"x":23.8,"y":24.8},{"x":24.0,"y":23.0},{"x":22.6,"y":26.0},{"x":23.4,"y":27.0},{"x":22.4,"y":19.4},{"x":23.8,"y":20.6},
      {"x":24.2,"y":25.4},{"x":24.4,"y":22.4},{"x":24.6,"y":24.6},{"x":24.8,"y":26.8},{"x":25.0,"y":23.8},{"x":25.2,"y":26.6},{"x":25.4,"y":24.2},{"x":25.6,"y":27.6},{"x":25.8,"y":25.4},{"x":26.0,"y":26.2},{"x":26.4,"y":25.0},{"x":26.8,"y":26.0},{"x":27.0,"y":27.8},{"x":24.4,"y":27.8},{"x":25.0,"y":21.0},{"x":26.2,"y":22.6},
      {"x":27.2,"y":25.6},{"x":27.5,"y":27.0},{"x":27.8,"y":25.8},{"x":28.2,"y":27.6},{"x":28.5,"y":26.4},{"x":28.8,"y":25.8},{"x":29.2,"y":26.4},{"x":29.5,"y":27.8},{"x":30.0,"y":27.4},{"x":27.2,"y":27.0}
    ],
    "d": [
      {"x":5.6,"y":8.0},{"x":5.9,"y":7.5},
      {"x":8.0,"y":10.5},{"x":8.8,"y":11.6},{"x":9.2,"y":12.4},{"x":9.6,"y":11.2},{"x":9.8,"y":13.6},{"x":10.0,"y":12.0},{"x":10.3,"y":15.1},{"x":10.4,"y":10.1},{"x":10.6,"y":13.2},{"x":10.8,"y":14.4},{"x":11.0,"y":12.4},{"x":11.2,"y":15.6},{"x":11.4,"y":13.4},{"x":11.6,"y":17.6},{"x":11.8,"y":14.6},{"x":12.0,"y":12.6},{"x":12.2,"y":16.0},{"x":12.4,"y":14.0},{"x":12.6,"y":18.2},{"x":12.8,"y":15.2},{"x":9.4,"y":14.4},{"x":11.5,"y":11.8},
      {"x":13.0,"y":13.4},{"x":13.1,"y":16.4},{"x":13.3,"y":14.8},{"x":13.5,"y":17.4},{"x":13.7,"y":15.4},{"x":13.9,"y":18.2},{"x":14.1,"y":16.2},{"x":14.3,"y":14.4},{"x":14.5,"y":19.0},{"x":14.7,"y":17.0},{"x":14.9,"y":15.2},{"x":15.1,"y":18.6},{"x":15.3,"y":16.4},{"x":15.5,"y":20.2},{"x":15.7,"y":17.6},{"x":15.9,"y":19.4},{"x":14.0,"y":20.0},{"x":15.0,"y":14.6},{"x":15.2,"y":21.2},{"x":16.0,"y":16.0},
      {"x":16.1,"y":18.4},{"x":16.3,"y":20.6},{"x":16.5,"y":17.4},{"x":16.7,"y":21.6},{"x":16.9,"y":19.2},{"x":17.1,"y":22.4},{"x":17.3,"y":18.2},{"x":17.5,"y":20.8},{"x":17.7,"y":23.0},{"x":17.9,"y":19.8},{"x":18.1,"y":22.0},{"x":18.3,"y":24.0},{"x":18.5,"y":20.6},{"x":18.7,"y":18.6},{"x":18.9,"y":23.2},{"x":19.0,"y":21.4},{"x":17.2,"y":24.2},{"x":18.0,"y":25.2},{"x":16.8,"y":16.2},{"x":19.2,"y":25.8},{"x":18.4,"y":17.4},
      {"x":19.3,"y":22.6},{"x":19.5,"y":20.4},{"x":19.7,"y":24.4},{"x":19.9,"y":22.0},{"x":20.0,"y":17.4},{"x":20.1,"y":25.6},{"x":20.3,"y":21.0},{"x":20.5,"y":23.8},{"x":20.7,"y":27.6},{"x":20.8,"y":22.4},{"x":21.0,"y":25.0},{"x":21.2,"y":20.6},{"x":21.4,"y":26.4},{"x":21.6,"y":23.4},{"x":21.8,"y":21.8},{"x":22.0,"y":25.8},{"x":22.2,"y":28.4},{"x":22.1,"y":23.0},{"x":20.6,"y":19.4},{"x":21.5,"y":29.0},{"x":22.0,"y":20.0},
      {"x":22.4,"y":24.4},{"x":22.6,"y":26.8},{"x":22.8,"y":22.6},{"x":23.0,"y":27.4},{"x":23.2,"y":25.0},{"x":23.4,"y":29.0},{"x":23.6,"y":20.8},{"x":23.6,"y":26.2},{"x":23.8,"y":23.6},{"x":24.0,"y":28.2},{"x":24.2,"y":25.6},{"x":24.4,"y":30.2},{"x":24.6,"y":27.0},{"x":24.7,"y":20.6},{"x":24.7,"y":33.3},{"x":24.8,"y":24.2},{"x":25.0,"y":28.8},{"x":23.0,"y":24.0},{"x":24.5,"y":22.8},{"x":25.0,"y":31.6},
      {"x":25.2,"y":26.6},{"x":25.4,"y":30.0},{"x":25.6,"y":27.8},{"x":25.8,"y":25.2},{"x":26.0,"y":31.4},{"x":26.2,"y":28.4},{"x":26.4,"y":26.0},{"x":26.6,"y":32.2},{"x":26.8,"y":29.4},{"x":27.0,"y":27.2},{"x":27.2,"y":31.0},{"x":27.4,"y":28.6},{"x":27.7,"y":26.1},{"x":27.6,"y":33.4},{"x":27.8,"y":30.4},{"x":28.0,"y":24.7},{"x":28.0,"y":32.2},{"x":25.5,"y":23.6},{"x":26.5,"y":34.0},{"x":27.2,"y":25.0},
      {"x":28.2,"y":29.4},{"x":28.4,"y":31.6},{"x":28.6,"y":27.8},{"x":28.8,"y":33.6},{"x":29.0,"y":35.4},{"x":29.0,"y":30.6},{"x":29.2,"y":28.8},{"x":29.4,"y":32.8},{"x":29.6,"y":30.2},{"x":29.8,"y":34.6},{"x":30.0,"y":31.8},{"x":30.2,"y":29.2},{"x":30.4,"y":33.4},{"x":30.6,"y":35.8},{"x":30.8,"y":31.0},{"x":31.0,"y":28.6},{"x":31.0,"y":34.0},{"x":29.5,"y":36.4},{"x":30.5,"y":27.4},{"x":31.7,"y":26.5},
      {"x":31.2,"y":32.4},{"x":31.4,"y":36.2},{"x":31.6,"y":30.0},{"x":31.8,"y":34.6},{"x":32.0,"y":32.0},{"x":32.2,"y":37.2},{"x":32.4,"y":33.6},{"x":32.6,"y":30.8},{"x":32.8,"y":35.6},{"x":33.0,"y":33.0},{"x":33.2,"y":38.0},{"x":33.4,"y":34.6},{"x":33.6,"y":31.6},{"x":33.8,"y":36.6},{"x":34.0,"y":33.8},{"x":32.5,"y":29.0},{"x":33.5,"y":39.0},{"x":34.0,"y":30.4},
      {"x":34.2,"y":37.8},{"x":34.4,"y":35.2},{"x":34.6,"y":32.6},{"x":34.8,"y":38.6},{"x":35.0,"y":36.0},{"x":35.2,"y":33.8},{"x":35.4,"y":39.4},{"x":35.6,"y":37.0},{"x":35.8,"y":34.4},{"x":36.0,"y":38.2},{"x":36.2,"y":35.6},{"x":36.4,"y":33.0},{"x":36.6,"y":39.8},{"x":36.8,"y":36.6},{"x":37.0,"y":34.4},{"x":35.0,"y":31.6},{"x":36.5,"y":31.8},{"x":37.0,"y":38.6},
      {"x":37.2,"y":40.4},{"x":37.3,"y":41.7},{"x":37.5,"y":37.4},{"x":37.8,"y":35.2},{"x":38.0,"y":39.4},{"x":38.3,"y":36.8},{"x":38.5,"y":41.7},{"x":38.6,"y":38.4},{"x":39.0,"y":40.0},{"x":39.1,"y":41.5},{"x":39.3,"y":36.2},{"x":39.6,"y":38.8},{"x":40.0,"y":32.9},{"x":40.0,"y":35.2},{"x":40.2,"y":40.6},{"x":40.5,"y":37.8},{"x":40.9,"y":38.3},{"x":41.3,"y":40.2},{"x":42.0,"y":40.7},{"x":43.0,"y":40.0},{"x":43.4,"y":41.0},{"x":44.0,"y":41.9},{"x":44.3,"y":43.4},{"x":44.9,"y":44.3},{"x":45.4,"y":42.3},{"x":39.8,"y":36.8},{"x":38.8,"y":34.6},
      {"x":12.6,"y":18.2},{"x":20.7,"y":27.6},{"x":22.2,"y":28.4},{"x":27.7,"y":26.1},{"x":28.0,"y":24.7},{"x":23.6,"y":20.8},
      {"x":13.4,"y":16.4},{"x":13.8,"y":17.0},{"x":14.2,"y":17.4},{"x":14.6,"y":17.8},{"x":15.0,"y":18.0},{"x":15.4,"y":18.6},{"x":15.8,"y":18.4},{"x":16.2,"y":19.4},{"x":16.6,"y":19.6},{"x":17.0,"y":20.2},{"x":14.4,"y":16.2},{"x":15.6,"y":17.0},{"x":16.4,"y":18.0},{"x":13.6,"y":15.6},{"x":16.8,"y":20.8},
      {"x":17.4,"y":20.6},{"x":17.8,"y":21.2},{"x":18.2,"y":20.8},{"x":18.6,"y":21.8},{"x":19.0,"y":22.4},{"x":19.4,"y":22.0},{"x":19.8,"y":23.2},{"x":20.2,"y":22.8},{"x":20.6,"y":23.6},{"x":21.0,"y":24.0},{"x":17.6,"y":19.4},{"x":18.8,"y":20.2},{"x":20.0,"y":21.2},{"x":20.4,"y":24.6},{"x":19.2,"y":23.8},{"x":21.0,"y":22.4},
      {"x":21.4,"y":24.6},{"x":21.8,"y":24.2},{"x":22.2,"y":25.4},{"x":22.6,"y":25.0},{"x":23.0,"y":26.0},{"x":23.4,"y":26.6},{"x":23.8,"y":26.2},{"x":24.2,"y":27.4},{"x":24.6,"y":27.8},{"x":25.0,"y":27.2},{"x":21.6,"y":22.6},{"x":22.8,"y":23.6},{"x":24.0,"y":24.8},{"x":22.4,"y":26.8},{"x":24.4,"y":29.0},{"x":23.2,"y":28.0},
      {"x":25.4,"y":28.2},{"x":25.8,"y":28.8},{"x":26.2,"y":29.4},{"x":26.6,"y":29.0},{"x":27.0,"y":30.0},{"x":27.4,"y":30.6},{"x":27.8,"y":30.2},{"x":28.2,"y":31.4},{"x":28.6,"y":31.8},{"x":29.0,"y":32.0},{"x":25.6,"y":26.6},{"x":26.8,"y":27.6},{"x":28.0,"y":28.8},{"x":26.0,"y":30.6},{"x":27.4,"y":32.2},{"x":28.8,"y":30.0},
      {"x":29.4,"y":31.6},{"x":29.8,"y":32.6},{"x":30.2,"y":32.2},{"x":30.6,"y":33.2},{"x":31.0,"y":32.8},{"x":31.4,"y":33.8},{"x":31.8,"y":33.4},{"x":32.2,"y":34.6},{"x":32.6,"y":34.2},{"x":33.0,"y":35.2},{"x":29.6,"y":29.6},{"x":30.8,"y":30.6},{"x":32.0,"y":31.8},{"x":30.4,"y":35.0},{"x":31.6,"y":35.6},{"x":33.0,"y":36.6},
      {"x":33.4,"y":35.6},{"x":33.8,"y":35.2},{"x":34.2,"y":36.2},{"x":34.6,"y":36.8},{"x":35.0,"y":37.2},{"x":35.4,"y":36.4},{"x":35.8,"y":37.8},{"x":36.2,"y":37.4},{"x":36.6,"y":38.2},{"x":37.0,"y":37.0},{"x":34.0,"y":32.4},{"x":35.2,"y":35.0},{"x":36.4,"y":36.2},{"x":37.4,"y":39.2},{"x":37.8,"y":38.6},{"x":38.2,"y":38.0},
      {"x":9.6,"y":12.8},{"x":10.2,"y":13.4},{"x":10.8,"y":12.8},{"x":11.4,"y":14.2},{"x":12.0,"y":14.6},{"x":12.6,"y":15.6},{"x":11.0,"y":16.4},{"x":12.2,"y":13.2}
    ]
  },
  "columns": 2,
  "spacing": {"row": 34, "column": 223},
  "concat": [
    {
      "width": 600, "height": 430,
      "title": {"text": "a. 禅思\u2009P1\u2009低氮区", "orient": "bottom", "anchor": "middle", "offset": 35, "dx": -29},
      "layer": [
        {
          "data": {"name": "a42"},
          "mark": {"type": "circle", "size": 90, "opacity": 0.72},
          "encoding": {
            "x": {"field": "x", "type": "quantitative", "scale": {"domain": [0, 45], "nice": false}, "axis": {"values": [0,5,10,15,20,25,30,35,40,45], "title": "实测植株高度 /cm"}},
            "y": {"field": "y", "type": "quantitative", "scale": {"domain": [0, 45], "nice": false}, "axis": {"values": [0,5,10,15,20,25,30,35,40,45], "title": "估算植株高度 /cm"}},
            "color": {
              "datum": "42 DAS",
              "scale": {"domain": ["42 DAS", "49 DAS", "y\u2009=\u20090.97x\u2009+\u20091.57", "y\u2009=\u2009x"], "range": ["#0000ff", "#008000", "#e31a1c", "#111111"]},
              "legend": {
                "orient": "top-left", "title": null, "offset": 9, "symbolSize": 676, "symbolStrokeWidth": 2,
                "clipHeight": 28, "rowPadding": 4, "labelOffset": 8,
                "encode": {"symbols": {"update": {
                  "shape": {"signal": "datum.index < 2 ? 'circle' : 'stroke'"},
                  "size": {"signal": "datum.index < 2 ? 80 : 676"},
                  "fill": {"signal": "datum.index == 0 ? '#0000ff' : datum.index == 1 ? '#008000' : 'transparent'"},
                  "stroke": {"signal": "datum.index == 3 ? '#111111' : datum.index == 2 ? '#e31a1c' : 'transparent'"},
                  "strokeWidth": {"signal": "datum.index == 3 ? 1.5 : 2.5"},
                  "strokeDash": {"signal": "datum.index == 3 ? [5, 3] : [1, 0]"},
                  "opacity": {"signal": "datum.index < 2 ? 0.75 : 1"}
                }}}
              }
            }
          }
        },
        {
          "data": {"name": "a49"},
          "mark": {"type": "circle", "size": 90, "opacity": 0.72},
          "encoding": {
            "x": {"field": "x", "type": "quantitative"},
            "y": {"field": "y", "type": "quantitative"},
            "color": {
              "datum": "49 DAS",
              "legend": {
                "orient": "top-left", "title": null, "offset": 9, "symbolSize": 676, "symbolStrokeWidth": 2,
                "clipHeight": 28, "rowPadding": 4, "labelOffset": 8,
                "encode": {"symbols": {"update": {
                  "shape": {"signal": "datum.index < 2 ? 'circle' : 'stroke'"},
                  "size": {"signal": "datum.index < 2 ? 80 : 676"},
                  "fill": {"signal": "datum.index == 0 ? '#0000ff' : datum.index == 1 ? '#008000' : 'transparent'"},
                  "stroke": {"signal": "datum.index == 3 ? '#111111' : datum.index == 2 ? '#e31a1c' : 'transparent'"},
                  "strokeWidth": {"signal": "datum.index == 3 ? 1.5 : 2.5"},
                  "strokeDash": {"signal": "datum.index == 3 ? [5, 3] : [1, 0]"},
                  "opacity": {"signal": "datum.index < 2 ? 0.75 : 1"}
                }}}
              }
            }
          }
        },
        {
          "data": {"values": [{"x": 5.6, "y": 7.0, "x2": 38.3, "y2": 38.7}]},
          "mark": {"type": "rule", "strokeWidth": 2.5},
          "encoding": {
            "x": {"field": "x", "type": "quantitative"}, "y": {"field": "y", "type": "quantitative"},
            "x2": {"field": "x2"}, "y2": {"field": "y2"},
            "color": {
              "datum": "y\u2009=\u20090.97x\u2009+\u20091.57",
              "legend": {
                "orient": "top-left", "title": null, "offset": 9, "symbolSize": 676, "symbolStrokeWidth": 2,
                "clipHeight": 28, "rowPadding": 4, "labelOffset": 8,
                "encode": {"symbols": {"update": {
                  "shape": {"signal": "datum.index < 2 ? 'circle' : 'stroke'"},
                  "size": {"signal": "datum.index < 2 ? 80 : 676"},
                  "fill": {"signal": "datum.index == 0 ? '#0000ff' : datum.index == 1 ? '#008000' : 'transparent'"},
                  "stroke": {"signal": "datum.index == 3 ? '#111111' : datum.index == 2 ? '#e31a1c' : 'transparent'"},
                  "strokeWidth": {"signal": "datum.index == 3 ? 1.5 : 2.5"},
                  "strokeDash": {"signal": "datum.index == 3 ? [5, 3] : [1, 0]"},
                  "opacity": {"signal": "datum.index < 2 ? 0.75 : 1"}
                }}}
              }
            }
          }
        },
        {
          "data": {"values": [{"x": 0, "y": 0, "x2": 45, "y2": 45}]},
          "mark": {"type": "rule", "strokeWidth": 1.5, "strokeDash": [5, 3]},
          "encoding": {
            "x": {"field": "x", "type": "quantitative"}, "y": {"field": "y", "type": "quantitative"},
            "x2": {"field": "x2"}, "y2": {"field": "y2"},
            "color": {
              "datum": "y\u2009=\u2009x",
              "legend": {
                "orient": "top-left", "title": null, "offset": 9, "symbolSize": 676, "symbolStrokeWidth": 2,
                "clipHeight": 28, "rowPadding": 4, "labelOffset": 8,
                "encode": {"symbols": {"update": {
                  "shape": {"signal": "datum.index < 2 ? 'circle' : 'stroke'"},
                  "size": {"signal": "datum.index < 2 ? 80 : 676"},
                  "fill": {"signal": "datum.index == 0 ? '#0000ff' : datum.index == 1 ? '#008000' : 'transparent'"},
                  "stroke": {"signal": "datum.index == 3 ? '#111111' : datum.index == 2 ? '#e31a1c' : 'transparent'"},
                  "strokeWidth": {"signal": "datum.index == 3 ? 1.5 : 2.5"},
                  "strokeDash": {"signal": "datum.index == 3 ? [5, 3] : [1, 0]"},
                  "opacity": {"signal": "datum.index < 2 ? 0.75 : 1"}
                }}}
              }
            }
          }
        },
        {
          "data": {"values": [{}]},
          "mark": {"type": "rect", "cornerRadius": 9, "fill": "white", "fillOpacity": 0.92, "stroke": "#222222", "strokeWidth": 1.3},
          "encoding": {"x": {"datum": 28.0}, "x2": {"datum": 44.2}, "y": {"datum": 1.46}, "y2": {"datum": 9.52}}
        },
        {
          "data": {"values": [{}]},
          "mark": {"type": "text", "align": "right", "baseline": "alphabetic", "fontSize": 28, "color": "#111111"},
          "encoding": {"x": {"datum": 43.4}, "y": {"datum": 6.17}, "text": {"value": "R² = 0.907 7"}}
        },
        {
          "data": {"values": [{}]},
          "mark": {"type": "text", "align": "right", "baseline": "alphabetic", "fontSize": 28, "color": "#111111"},
          "encoding": {"x": {"datum": 43.4}, "y": {"datum": 2.83}, "text": {"value": "RMSE = 1.89 cm"}}
        }
      ]
    },
    {
      "width": 600, "height": 430,
      "title": {"text": "b. 禅思\u2009P1\u2009高氮区", "orient": "bottom", "anchor": "middle", "offset": 35, "dx": -29},
      "layer": [
        {
          "data": {"name": "b42"},
          "mark": {"type": "circle", "size": 90, "opacity": 0.72},
          "encoding": {
            "x": {"field": "x", "type": "quantitative", "scale": {"domain": [0, 50], "nice": false}, "axis": {"values": [0,10,20,30,40,50], "title": "实测植株高度 /cm"}},
            "y": {"field": "y", "type": "quantitative", "scale": {"domain": [0, 50], "nice": false}, "axis": {"values": [0,10,20,30,40,50], "title": "估算植株高度 /cm"}},
            "color": {
              "datum": "42 DAS",
              "scale": {"domain": ["42 DAS", "49 DAS", "y\u2009=\u20090.85x\u2009+\u20095.37", "y\u2009=\u2009x"], "range": ["#0000ff", "#008000", "#e31a1c", "#111111"]},
              "legend": {
                "orient": "top-left", "title": null, "offset": 9, "symbolSize": 676, "symbolStrokeWidth": 2,
                "clipHeight": 28, "rowPadding": 4, "labelOffset": 8,
                "encode": {"symbols": {"update": {
                  "shape": {"signal": "datum.index < 2 ? 'circle' : 'stroke'"},
                  "size": {"signal": "datum.index < 2 ? 80 : 676"},
                  "fill": {"signal": "datum.index == 0 ? '#0000ff' : datum.index == 1 ? '#008000' : 'transparent'"},
                  "stroke": {"signal": "datum.index == 3 ? '#111111' : datum.index == 2 ? '#e31a1c' : 'transparent'"},
                  "strokeWidth": {"signal": "datum.index == 3 ? 1.5 : 2.5"},
                  "strokeDash": {"signal": "datum.index == 3 ? [5, 3] : [1, 0]"},
                  "opacity": {"signal": "datum.index < 2 ? 0.75 : 1"}
                }}}
              }
            }
          }
        },
        {
          "data": {"name": "b49"},
          "mark": {"type": "circle", "size": 90, "opacity": 0.72},
          "encoding": {
            "x": {"field": "x", "type": "quantitative"},
            "y": {"field": "y", "type": "quantitative"},
            "color": {
              "datum": "49 DAS",
              "legend": {
                "orient": "top-left", "title": null, "offset": 9, "symbolSize": 676, "symbolStrokeWidth": 2,
                "clipHeight": 28, "rowPadding": 4, "labelOffset": 8,
                "encode": {"symbols": {"update": {
                  "shape": {"signal": "datum.index < 2 ? 'circle' : 'stroke'"},
                  "size": {"signal": "datum.index < 2 ? 80 : 676"},
                  "fill": {"signal": "datum.index == 0 ? '#0000ff' : datum.index == 1 ? '#008000' : 'transparent'"},
                  "stroke": {"signal": "datum.index == 3 ? '#111111' : datum.index == 2 ? '#e31a1c' : 'transparent'"},
                  "strokeWidth": {"signal": "datum.index == 3 ? 1.5 : 2.5"},
                  "strokeDash": {"signal": "datum.index == 3 ? [5, 3] : [1, 0]"},
                  "opacity": {"signal": "datum.index < 2 ? 0.75 : 1"}
                }}}
              }
            }
          }
        },
        {
          "data": {"values": [{"x": 3.7, "y": 8.5, "x2": 45.3, "y2": 43.9}]},
          "mark": {"type": "rule", "strokeWidth": 2.5},
          "encoding": {
            "x": {"field": "x", "type": "quantitative"}, "y": {"field": "y", "type": "quantitative"},
            "x2": {"field": "x2"}, "y2": {"field": "y2"},
            "color": {
              "datum": "y\u2009=\u20090.85x\u2009+\u20095.37",
              "legend": {
                "orient": "top-left", "title": null, "offset": 9, "symbolSize": 676, "symbolStrokeWidth": 2,
                "clipHeight": 28, "rowPadding": 4, "labelOffset": 8,
                "encode": {"symbols": {"update": {
                  "shape": {"signal": "datum.index < 2 ? 'circle' : 'stroke'"},
                  "size": {"signal": "datum.index < 2 ? 80 : 676"},
                  "fill": {"signal": "datum.index == 0 ? '#0000ff' : datum.index == 1 ? '#008000' : 'transparent'"},
                  "stroke": {"signal": "datum.index == 3 ? '#111111' : datum.index == 2 ? '#e31a1c' : 'transparent'"},
                  "strokeWidth": {"signal": "datum.index == 3 ? 1.5 : 2.5"},
                  "strokeDash": {"signal": "datum.index == 3 ? [5, 3] : [1, 0]"},
                  "opacity": {"signal": "datum.index < 2 ? 0.75 : 1"}
                }}}
              }
            }
          }
        },
        {
          "data": {"values": [{"x": 0, "y": 0, "x2": 50, "y2": 50}]},
          "mark": {"type": "rule", "strokeWidth": 1.5, "strokeDash": [5, 3]},
          "encoding": {
            "x": {"field": "x", "type": "quantitative"}, "y": {"field": "y", "type": "quantitative"},
            "x2": {"field": "x2"}, "y2": {"field": "y2"},
            "color": {
              "datum": "y\u2009=\u2009x",
              "legend": {
                "orient": "top-left", "title": null, "offset": 9, "symbolSize": 676, "symbolStrokeWidth": 2,
                "clipHeight": 28, "rowPadding": 4, "labelOffset": 8,
                "encode": {"symbols": {"update": {
                  "shape": {"signal": "datum.index < 2 ? 'circle' : 'stroke'"},
                  "size": {"signal": "datum.index < 2 ? 80 : 676"},
                  "fill": {"signal": "datum.index == 0 ? '#0000ff' : datum.index == 1 ? '#008000' : 'transparent'"},
                  "stroke": {"signal": "datum.index == 3 ? '#111111' : datum.index == 2 ? '#e31a1c' : 'transparent'"},
                  "strokeWidth": {"signal": "datum.index == 3 ? 1.5 : 2.5"},
                  "strokeDash": {"signal": "datum.index == 3 ? [5, 3] : [1, 0]"},
                  "opacity": {"signal": "datum.index < 2 ? 0.75 : 1"}
                }}}
              }
            }
          }
        },
        {
          "data": {"values": [{}]},
          "mark": {"type": "rect", "cornerRadius": 9, "fill": "white", "fillOpacity": 0.92, "stroke": "#222222", "strokeWidth": 1.3},
          "encoding": {"x": {"datum": 31.1}, "x2": {"datum": 49.2}, "y": {"datum": 1.63}, "y2": {"datum": 10.58}}
        },
        {
          "data": {"values": [{}]},
          "mark": {"type": "text", "align": "right", "baseline": "alphabetic", "fontSize": 28, "color": "#111111"},
          "encoding": {"x": {"datum": 48.3}, "y": {"datum": 6.86}, "text": {"value": "R² = 0.938 0"}}
        },
        {
          "data": {"values": [{}]},
          "mark": {"type": "text", "align": "right", "baseline": "alphabetic", "fontSize": 28, "color": "#111111"},
          "encoding": {"x": {"datum": 48.3}, "y": {"datum": 3.14}, "text": {"value": "RMSE = 1.90 cm"}}
        }
      ]
    },
    {
      "width": 600, "height": 430,
      "title": {"text": "c. 禅思\u2009P1 42 DAS", "orient": "bottom", "anchor": "middle", "offset": 35, "dx": -29},
      "layer": [
        {
          "data": {"name": "c"},
          "mark": {"type": "circle", "size": 155, "opacity": 0.72, "color": "#0000ff"},
          "encoding": {
            "x": {"field": "x", "type": "quantitative", "scale": {"domain": [0, 35], "nice": false}, "axis": {"values": [0,5,10,15,20,25,30,35], "title": "实测植株高度 /cm"}},
            "y": {"field": "y", "type": "quantitative", "scale": {"domain": [0, 35], "nice": false}, "axis": {"values": [0,5,10,15,20,25,30,35], "title": "估算植株高度 /cm"}}
          }
        },
        {
          "data": {"values": [{"x": 3.6, "y": 8.4, "x2": 33.3, "y2": 30.1}]},
          "mark": {"type": "rule", "strokeWidth": 3},
          "encoding": {
            "x": {"field": "x", "type": "quantitative"}, "y": {"field": "y", "type": "quantitative"},
            "x2": {"field": "x2"}, "y2": {"field": "y2"},
            "color": {
              "datum": "y\u2009=\u20090.73x\u2009+\u20095.74",
              "scale": {"domain": ["y\u2009=\u20090.73x\u2009+\u20095.74", "y\u2009=\u2009x"], "range": ["#0a7d0a", "#e03030"]},
              "legend": {
                "orient": "top-left", "title": "R² = 0.781 9, RMSE = 2.06 cm", "titlePadding": 2, "offset": 16,
                "symbolSize": 3700, "symbolStrokeWidth": 3, "symbolOffset": 30, "labelOffset": 35,
                "clipHeight": 24, "rowPadding": 15,
                "encode": {"symbols": {"update": {
                  "shape": {"value": "stroke"},
                  "fill": {"value": "transparent"},
                  "stroke": {"signal": "datum.index == 0 ? '#0a7d0a' : '#e03030'"},
                  "strokeWidth": {"signal": "datum.index == 0 ? 3 : 1.5"},
                  "strokeDash": {"signal": "datum.index == 1 ? [5, 3] : [1, 0]"},
                  "opacity": {"value": 1}
                }}}
              }
            }
          }
        },
        {
          "data": {"values": [{"x": 0, "y": 0, "x2": 35, "y2": 35}]},
          "mark": {"type": "rule", "strokeWidth": 1.5, "strokeDash": [5, 3]},
          "encoding": {
            "x": {"field": "x", "type": "quantitative"}, "y": {"field": "y", "type": "quantitative"},
            "x2": {"field": "x2"}, "y2": {"field": "y2"},
            "color": {
              "datum": "y\u2009=\u2009x",
              "legend": {
                "orient": "top-left", "title": "R² = 0.781 9, RMSE = 2.06 cm", "titlePadding": 2, "offset": 16,
                "symbolSize": 3700, "symbolStrokeWidth": 3, "symbolOffset": 30, "labelOffset": 35,
                "clipHeight": 24, "rowPadding": 15,
                "encode": {"symbols": {"update": {
                  "shape": {"value": "stroke"},
                  "fill": {"value": "transparent"},
                  "stroke": {"signal": "datum.index == 0 ? '#0a7d0a' : '#e03030'"},
                  "strokeWidth": {"signal": "datum.index == 0 ? 3 : 1.5"},
                  "strokeDash": {"signal": "datum.index == 1 ? [5, 3] : [1, 0]"},
                  "opacity": {"value": 1}
                }}}
              }
            }
          }
        }
      ]
    },
    {
      "width": 600, "height": 430,
      "title": {"text": "d. 禅思\u2009P1 49 DAS", "orient": "bottom", "anchor": "middle", "offset": 35, "dx": -29},
      "layer": [
        {
          "data": {"name": "d"},
          "mark": {"type": "circle", "size": 155, "opacity": 0.72, "color": "#0000ff"},
          "encoding": {
            "x": {"field": "x", "type": "quantitative", "scale": {"domain": [0, 50], "nice": false}, "axis": {"values": [0,10,20,30,40,50], "title": "实测植株高度 /cm"}},
            "y": {"field": "y", "type": "quantitative", "scale": {"domain": [0, 50], "nice": false}, "axis": {"values": [0,10,20,30,40,50], "title": "估算植株高度 /cm"}}
          }
        },
        {
          "data": {"values": [{"x": 5.6, "y": 9.8, "x2": 45.3, "y2": 44.7}]},
          "mark": {"type": "rule", "strokeWidth": 3},
          "encoding": {
            "x": {"field": "x", "type": "quantitative"}, "y": {"field": "y", "type": "quantitative"},
            "x2": {"field": "x2"}, "y2": {"field": "y2"},
            "color": {
              "datum": "y\u2009=\u20090.88x\u2009+\u20094.87",
              "scale": {"domain": ["y\u2009=\u20090.88x\u2009+\u20094.87", "y\u2009=\u2009x"], "range": ["#0a7d0a", "#e03030"]},
              "legend": {
                "orient": "top-left", "title": "R² = 0.932 6, RMSE = 1.58 cm", "titlePadding": 2, "offset": 16,
                "symbolSize": 3700, "symbolStrokeWidth": 3, "symbolOffset": 30, "labelOffset": 35,
                "clipHeight": 24, "rowPadding": 15,
                "encode": {"symbols": {"update": {
                  "shape": {"value": "stroke"},
                  "fill": {"value": "transparent"},
                  "stroke": {"signal": "datum.index == 0 ? '#0a7d0a' : '#e03030'"},
                  "strokeWidth": {"signal": "datum.index == 0 ? 3 : 1.5"},
                  "strokeDash": {"signal": "datum.index == 1 ? [5, 3] : [1, 0]"},
                  "opacity": {"value": 1}
                }}}
              }
            }
          }
        },
        {
          "data": {"values": [{"x": 0, "y": 0, "x2": 50, "y2": 50}]},
          "mark": {"type": "rule", "strokeWidth": 1.5, "strokeDash": [5, 3]},
          "encoding": {
            "x": {"field": "x", "type": "quantitative"}, "y": {"field": "y", "type": "quantitative"},
            "x2": {"field": "x2"}, "y2": {"field": "y2"},
            "color": {
              "datum": "y\u2009=\u2009x",
              "legend": {
                "orient": "top-left", "title": "R² = 0.932 6, RMSE = 1.58 cm", "titlePadding": 2, "offset": 16,
                "symbolSize": 3700, "symbolStrokeWidth": 3, "symbolOffset": 30, "labelOffset": 35,
                "clipHeight": 24, "rowPadding": 15,
                "encode": {"symbols": {"update": {
                  "shape": {"value": "stroke"},
                  "fill": {"value": "transparent"},
                  "stroke": {"signal": "datum.index == 0 ? '#0a7d0a' : '#e03030'"},
                  "strokeWidth": {"signal": "datum.index == 0 ? 3 : 1.5"},
                  "strokeDash": {"signal": "datum.index == 1 ? [5, 3] : [1, 0]"},
                  "opacity": {"value": 1}
                }}}
              }
            }
          }
        }
      ]
    }
  ]
}
